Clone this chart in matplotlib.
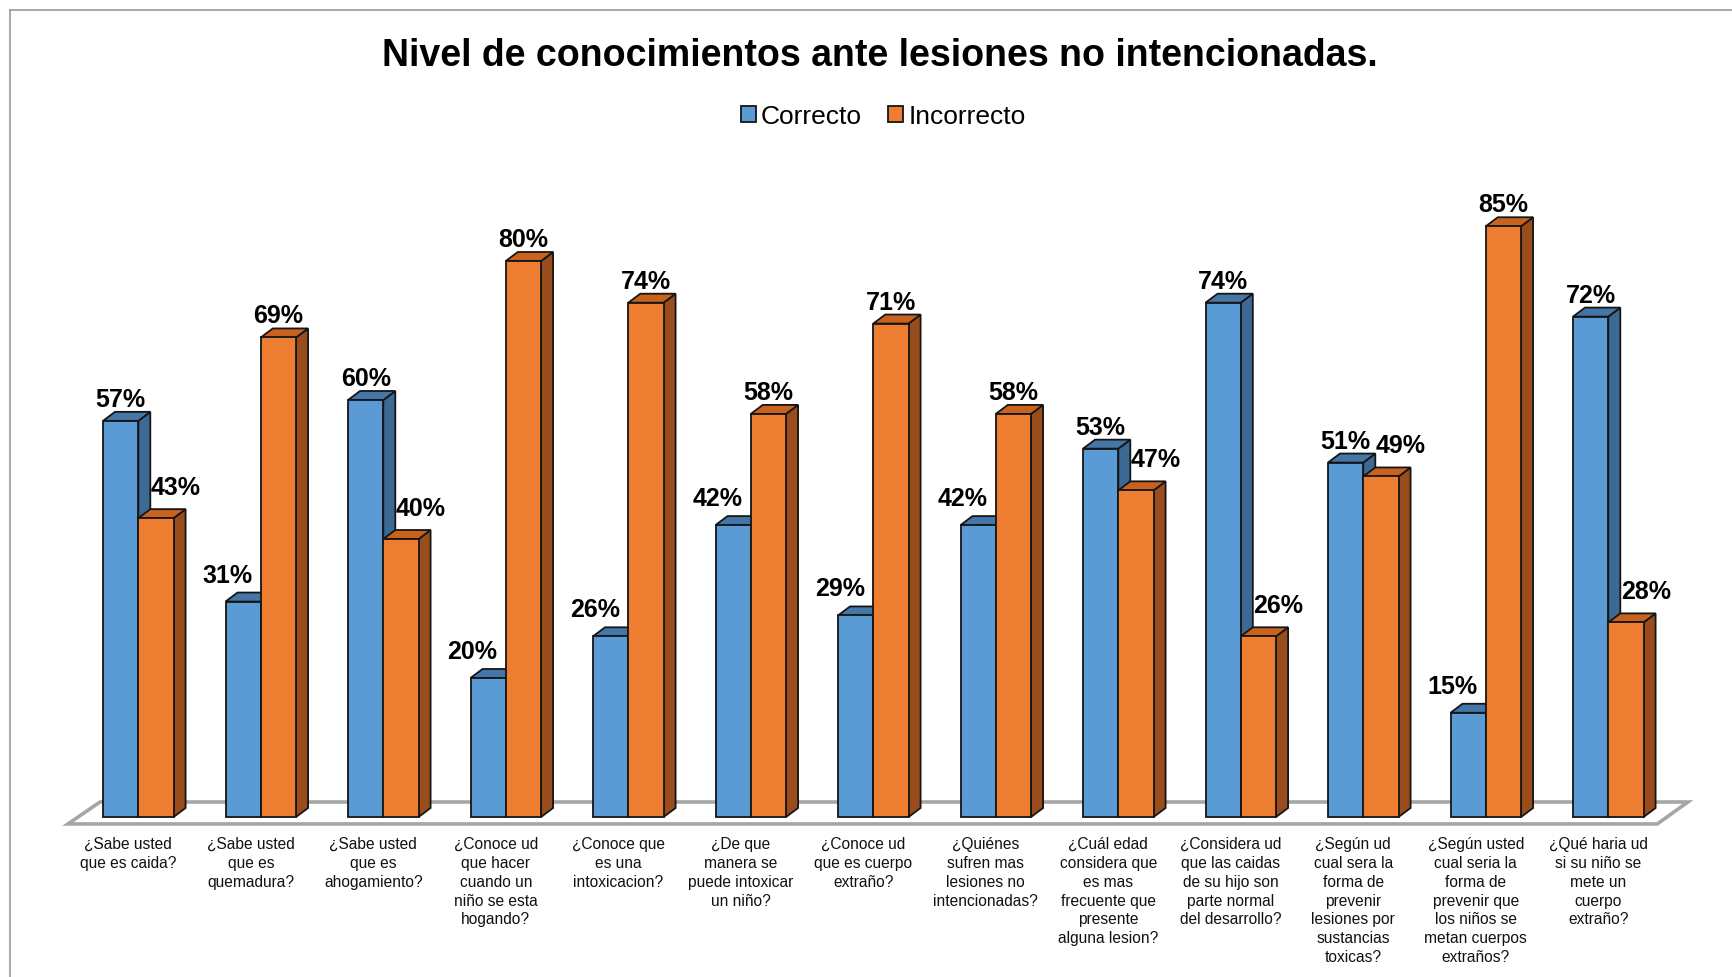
import matplotlib
import matplotlib.pyplot as plt
from matplotlib.patches import Patch, Polygon
from matplotlib.lines import Line2D
import numpy as np

matplotlib.use("Agg")
plt.rcParams["font.family"] = ["Liberation Sans", "DejaVu Sans"]

# ---- datos ----
preguntas = [
    "¿Sabe usted\nque es caida?",
    "¿Sabe usted\nque es\nquemadura?",
    "¿Sabe usted\nque es\nahogamiento?",
    "¿Conoce ud\nque hacer\ncuando un\nniño se esta\nhogando?",
    "¿Conoce que\nes una\nintoxicacion?",
    "¿De que\nmanera se\npuede intoxicar\nun niño?",
    "¿Conoce ud\nque es cuerpo\nextraño?",
    "¿Quiénes\nsufren mas\nlesiones no\nintencionadas?",
    "¿Cuál edad\nconsidera que\nes mas\nfrecuente que\npresente\nalguna lesion?",
    "¿Considera ud\nque las caidas\nde su hijo son\nparte normal\ndel desarrollo?",
    "¿Según ud\ncual sera la\nforma de\nprevenir\nlesiones por\nsustancias\ntoxicas?",
    "¿Según usted\ncual seria la\nforma de\nprevenir que\nlos niños se\nmetan cuerpos\nextraños?",
    "¿Qué haria ud\nsi su niño se\nmete un\ncuerpo\nextraño?",
]
correcto = [57, 31, 60, 20, 26, 42, 29, 42, 53, 74, 51, 15, 72]
incorrecto = [43, 69, 40, 80, 74, 58, 71, 58, 47, 26, 49, 85, 28]
series = ["Correcto", "Incorrecto"]

# ---- estilo ----
W, H = 1732, 978
PX_X, PX_Y = 122.5, 6.95          # px por grupo / px por punto %
X0_PX, Y0_PX = 138.3, 818         # centro del grupo 0 / base de barras
BAR_W = 0.288
DEPTH_X, DEPTH_Y = 12, 9          # profundidad 3D en px
COLORS = {
    "Correcto": ("#5B9BD5", "#3D6A94", "#4477A8"),
    "Incorrecto": ("#ED7D31", "#9A4D1C", "#C9621F"),
}
EDGE = "#151515"

fig = plt.figure(figsize=(W / 100, H / 100), dpi=100)
ax = fig.add_axes([0, 0, 1, 1])
ax.set_xlim(-X0_PX / PX_X, (W - X0_PX) / PX_X)
ax.set_ylim((Y0_PX - H) / PX_Y, Y0_PX / PX_Y)
ax.axis("off")

dx = DEPTH_X / PX_X
dy = DEPTH_Y / PX_Y
x = np.arange(len(preguntas))

# piso
floor = Polygon(
    [(-0.574, -1.0), (12.40, -1.0), (12.65, 2.16), (-0.313, 2.16)],
    closed=True, facecolor="white", edgecolor="#A6A6A6", linewidth=2.6, zorder=1,
)
ax.add_patch(floor)

for k, (name, vals) in enumerate(zip(series, [correcto, incorrecto])):
    front, side, top = COLORS[name]
    offs = -BAR_W / 2 if k == 0 else BAR_W / 2
    z = 2 + 2 * k
    bars = ax.bar(x + offs, vals, width=BAR_W, color=front, edgecolor=EDGE,
                  linewidth=1.3, zorder=z + 1, label=name)
    for b in bars:
        x0, x1, h = b.get_x(), b.get_x() + b.get_width(), b.get_height()
        ax.add_patch(Polygon([(x1, 0), (x1 + dx, dy), (x1 + dx, h + dy), (x1, h)],
                             facecolor=side, edgecolor=EDGE, linewidth=1.3, zorder=z))
        ax.add_patch(Polygon([(x0, h), (x0 + dx, h + dy), (x1 + dx, h + dy), (x1, h)],
                             facecolor=top, edgecolor=EDGE, linewidth=1.3, zorder=z))

# etiquetas de valor
for i in range(len(preguntas)):
    c, n = correcto[i], incorrecto[i]
    for k, v in enumerate([c, n]):
        xc = x[i] + (-BAR_W / 2 if k == 0 else BAR_W / 2)
        shift_x, extra_y = 0, 0
        if k == 0 and c < n:
            shift_x, extra_y = -16, 5
        if k == 1 and n < c:
            shift_x, extra_y = 20, 9
        ax.annotate(f"{v}%", (xc, v), xytext=(shift_x, DEPTH_Y + 6 + extra_y),
                    textcoords="offset pixels", ha="center", va="baseline",
                    fontsize=18, fontweight="bold", color="black", zorder=10)

# etiquetas de categoría
for i, lab in enumerate(preguntas):
    ax.text(x[i] - 10 / PX_X, (Y0_PX - 837) / PX_Y, lab, ha="center", va="top",
            fontsize=11.2, linespacing=1.32, multialignment="center", color="#111111")

fig.text(0.508, 1 - 66 / H, "Nivel de conocimientos ante lesiones no intencionadas.",
         ha="center", va="baseline", fontsize=27, fontweight="bold")

handles = [Patch(facecolor=COLORS[s][0], edgecolor=EDGE, linewidth=1.3) for s in series]
fig.legend(handles, series, loc="center", bbox_to_anchor=(0.510, 1 - 117 / H),
           ncol=2, frameon=False, fontsize=19, handlelength=0.57, handleheight=0.57,
           handletextpad=0.2, columnspacing=1.0)

# marco parcial
fig.add_artist(Line2D([10 / W, 10 / W], [0, 1 - 11 / H], color="#999999", linewidth=1.2))
fig.add_artist(Line2D([10 / W, 1], [1 - 11 / H, 1 - 11 / H], color="#999999", linewidth=1.2))

fig.savefig("out.png", dpi=100)
